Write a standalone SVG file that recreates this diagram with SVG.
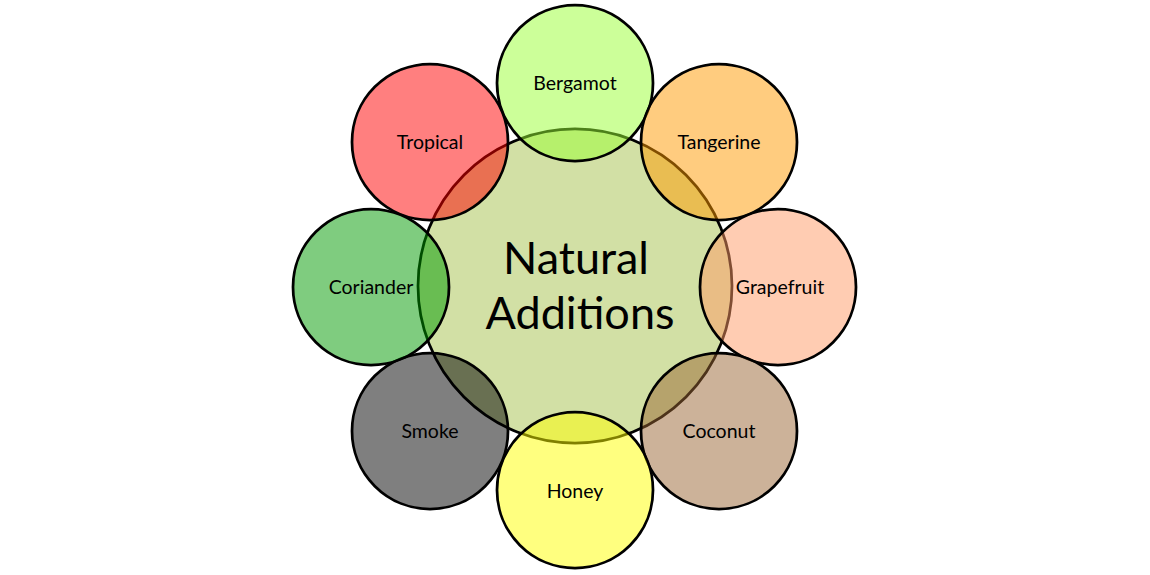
<svg xmlns="http://www.w3.org/2000/svg" width="1150" height="575" viewBox="0 0 1150 575">
<style>
.center{fill:#d2e0a5;stroke:#000;stroke-width:2.75}
.petal{fill-opacity:0.5;stroke:#000;stroke-width:2.75}
.lbl{font-family:Lato,"Open Sans",sans-serif;font-size:19.5px;fill:#000;text-anchor:middle}
.title{font-family:Lato,"Open Sans",sans-serif;font-size:45px;fill:#000;text-anchor:middle}
</style>
<rect width="1150" height="575" fill="#fff"/>
<g id="connectors"></g>
<g id="center">
<circle class="center" cx="575" cy="286" r="157"/>
<text class="title" x="576" y="274">Natural</text>
<text class="title" x="580" y="329">Additions</text>
</g>
<g id="bergamot"><circle class="petal" cx="575" cy="83" r="78" fill="#99ff33"/><text class="lbl" x="575" y="90">Bergamot</text></g>
<g id="tangerine"><circle class="petal" cx="719" cy="142" r="78" fill="#ff9900"/><text class="lbl" x="719" y="149">Tangerine</text></g>
<g id="grapefruit"><circle class="petal" cx="778" cy="287" r="78" fill="#ff9966"/><text class="lbl" x="780" y="294">Grapefruit</text></g>
<g id="coconut"><circle class="petal" cx="719" cy="431" r="78" fill="#996633"/><text class="lbl" x="719" y="438">Coconut</text></g>
<g id="honey"><circle class="petal" cx="575" cy="490" r="78" fill="#ffff00"/><text class="lbl" x="575" y="498">Honey</text></g>
<g id="smoke"><circle class="petal" cx="430" cy="431" r="78" fill="#000000"/><text class="lbl" x="430" y="438">Smoke</text></g>
<g id="coriander"><circle class="petal" cx="371" cy="287" r="78" fill="#009900"/><text class="lbl" x="371" y="294">Coriander</text></g>
<g id="tropical"><circle class="petal" cx="430" cy="142" r="78" fill="#ff0000"/><text class="lbl" x="430" y="149">Tropical</text></g>
</svg>
